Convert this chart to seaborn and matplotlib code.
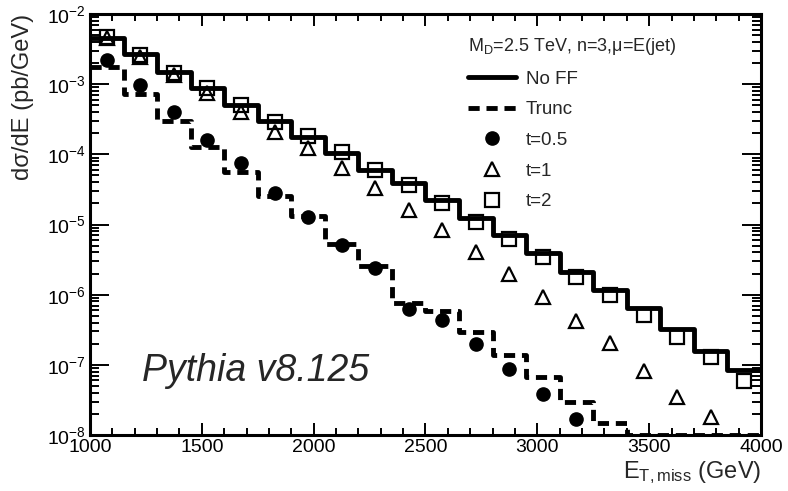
import numpy as np
import matplotlib
matplotlib.use("Agg")
import matplotlib.pyplot as plt
from matplotlib.ticker import LogLocator, MultipleLocator, NullFormatter
import seaborn as sns

# histogram bin edges in E_T,miss (GeV)
edges = [1000, 1150, 1300, 1450, 1600, 1750, 1900, 2050, 2200, 2350, 2500,
         2650, 2800, 2950, 3100, 3250, 3400, 3550, 3700, 3850, 4000]

# dsigma/dE (pb/GeV), one value per bin
no_ff = [4.55e-3, 2.69e-3, 1.49e-3, 8.8e-4, 5.06e-4, 2.99e-4, 1.79e-4, 1.04e-4,
         6.0e-5, 3.89e-5, 2.24e-5, 1.23e-5, 7.1e-6, 3.9e-6, 2.13e-6, 1.17e-6,
         6.4e-7, 3.2e-7, 1.55e-7, 8.5e-8]
# last bins sit on the lower edge of the plot
trunc = [1.76e-3, 7.24e-4, 2.99e-4, 1.27e-4, 5.6e-5, 2.55e-5, 1.33e-5, 5.3e-6,
         2.57e-6, 7.6e-7, 5.9e-7, 2.95e-7, 1.39e-7, 6.7e-8, 2.97e-8, 1.49e-8,
         1.0e-8, 1.0e-8, 1.0e-8, 1.0e-8]
t05 = [2.21e-3, 9.75e-4, 4.02e-4, 1.60e-4, 7.55e-5, 2.82e-5, 1.28e-5, 5.1e-6,
       2.41e-6, 6.3e-7, 4.38e-7, 2.0e-7, 8.8e-8, 3.86e-8, 1.70e-8]
t1 = [4.55e-3, 2.44e-3, 1.35e-3, 7.5e-4, 4.02e-4, 2.08e-4, 1.23e-4, 6.4e-5,
      3.32e-5, 1.61e-5, 8.4e-6, 4.07e-6, 1.98e-6, 9.3e-7, 4.24e-7, 2.06e-7,
      8.2e-8, 3.5e-8, 1.82e-8]
t2 = [4.76e-3, 2.61e-3, 1.45e-3, 8.8e-4, 5.06e-4, 2.90e-4, 1.83e-4, 1.08e-4,
      6.0e-5, 3.66e-5, 2.03e-5, 1.09e-5, 6.2e-6, 3.46e-6, 1.80e-6, 9.9e-7,
      5.15e-7, 2.5e-7, 1.30e-7, 5.9e-8]

edges = np.array(edges)
centers = (edges[:-1] + edges[1:]) / 2

sns.set_theme(style="ticks")
plt.rcParams["font.family"] = ["Liberation Sans", "DejaVu Sans"]
plt.rcParams["mathtext.fontset"] = "custom"
plt.rcParams["mathtext.rm"] = "Liberation Sans"
plt.rcParams["mathtext.it"] = "Liberation Sans:italic"

fig = plt.figure(figsize=(7.88, 4.91), dpi=100)
ax = fig.add_axes([90 / 788, 1 - 435 / 491, 671 / 788, 421 / 491])
ax.set_yscale("log")

sns.lineplot(x=edges, y=no_ff + [no_ff[-1]], drawstyle="steps-post",
             color="black", lw=3.5, label="No FF", ax=ax,
             estimator=None, sort=False)
sns.lineplot(x=edges, y=trunc + [trunc[-1]], drawstyle="steps-post",
             color="black", lw=3.5, ls=(0, (2.3, 1.4)), label="Trunc", ax=ax,
             estimator=None, sort=False)

sns.lineplot(x=centers[:len(t05)], y=t05, marker="o", ls="", color="black",
             markersize=9.5, markeredgecolor="black", markeredgewidth=1,
             label="t=0.5", ax=ax, estimator=None, sort=False)
sns.lineplot(x=centers[:len(t1)], y=t1, marker="^", ls="", color="black",
             markersize=10.5, markerfacecolor="none", markeredgecolor="black",
             markeredgewidth=1.6, label="t=1", ax=ax, estimator=None, sort=False)
sns.lineplot(x=centers[:len(t2)], y=t2, marker="s", ls="", color="black",
             markersize=10, markerfacecolor="none", markeredgecolor="black",
             markeredgewidth=1.6, label="t=2", ax=ax, estimator=None, sort=False)

ax.set_xlim(1000, 4000)
ax.set_ylim(1e-8, 1e-2)

ax.xaxis.set_major_locator(MultipleLocator(500))
ax.xaxis.set_minor_locator(MultipleLocator(100))
ax.yaxis.set_major_locator(LogLocator(base=10, numticks=20))
ax.yaxis.set_minor_locator(LogLocator(base=10, subs=range(2, 10), numticks=20))
ax.yaxis.set_minor_formatter(NullFormatter())

ax.tick_params(which="both", direction="in", top=True, right=True,
               colors="black", labelsize=14, width=1.4)
ax.tick_params(axis="x", which="major", length=8.6, pad=3)
ax.tick_params(axis="x", which="minor", length=5)
ax.tick_params(axis="y", which="major", length=13.5, pad=3)
ax.tick_params(axis="y", which="minor", length=6.5)
for sp in ax.spines.values():
    sp.set_linewidth(2.2)
    sp.set_color("black")

ax.set_xlabel(r"E$_\mathregular{T,miss}$ (GeV)", loc="right", fontsize=17,
              labelpad=2)
ax.set_ylabel("dσ/dE (pb/GeV)", loc="top", fontsize=17, labelpad=9)

ax.text(0.077, 0.152, "Pythia v8.125", transform=ax.transAxes, fontsize=27,
        style="italic", va="center")

ax.legend(title=r"M$_\mathregular{D}$=2.5 TeV, n=3,μ=E(jet)",
          loc="upper left", bbox_to_anchor=(468 / 788, 1 - 36 / 491),
          bbox_transform=fig.transFigure, frameon=False, fontsize=13.5,
          title_fontsize=13, alignment="left", handlelength=2.55,
          handletextpad=0.55, labelspacing=0.72, borderpad=0, borderaxespad=0,
          numpoints=1)

fig.savefig("out.png", dpi=100)
